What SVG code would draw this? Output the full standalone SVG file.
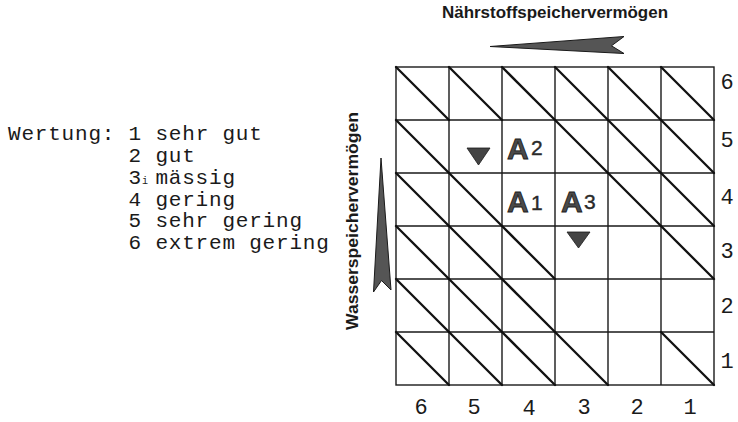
<svg xmlns="http://www.w3.org/2000/svg" width="738" height="422" viewBox="0 0 738 422">
<style>
  .grid { fill: none; stroke: #1a1a1a; stroke-width: 1.4; }
  .diag { stroke: #111; stroke-width: 2.3; stroke-linecap: round; }
  .mono { font-family: "Liberation Mono", "DejaVu Sans Mono", monospace; fill: #1a1a1a; }
  .legend { font-size: 21px; letter-spacing: 0.8px; }
  .axisnum { font-size: 22px; text-anchor: middle; }
  .title { font-family: "Liberation Sans", Arial, sans-serif; font-weight: bold; font-size: 16px; fill: #1a1a1a; }
  .bigA { font-family: "Liberation Sans", Arial, sans-serif; font-weight: bold; font-size: 30px; fill: #4a4a4a; stroke: #1a1a1a; stroke-width: 0.8; }
  .sub { font-family: "Liberation Sans", Arial, sans-serif; font-size: 21px; fill: #2a2a2a; stroke: #2a2a2a; stroke-width: 0.4; }
  .arrow { fill: #555; stroke: #1a1a1a; stroke-width: 1; stroke-linejoin: miter; }
  .mark { fill: #444; stroke: #1a1a1a; stroke-width: 0.8; }
</style>

<g id="legend" class="mono legend">
  <text x="8" y="140">Wertung: 1 sehr gut</text>
  <text x="128.6" y="162">2 gut</text>
  <text x="128.6" y="184">3<tspan font-size="10px" letter-spacing="0">i</tspan><tspan x="155.4">mässig</tspan></text>
  <text x="128.6" y="206">4 gering</text>
  <text x="128.6" y="227">5 sehr gering</text>
  <text x="128.6" y="249">6 extrem gering</text>
</g>

<g id="title-top">
  <text class="title" x="555" y="18" text-anchor="middle" textLength="226" lengthAdjust="spacingAndGlyphs">Nährstoffspeichervermögen</text>
</g>
<g id="title-left">
  <text class="title" transform="translate(358,221) rotate(-90)" text-anchor="middle" textLength="218" lengthAdjust="spacingAndGlyphs">Wasserspeichervermögen</text>
</g>

<g id="connectors">
  <path class="arrow" d="M490,46.5 L624,36.5 L611.5,45.8 L624,53.5 Z"/>
  <path class="arrow" d="M381,158 L391,290 L381.5,280.5 L373.5,292 Z"/>
</g>

<g id="grid">
  <rect class="grid" x="396" y="67" width="318" height="318"/>
  <path class="grid" d="M449,67V385 M502,67V385 M555,67V385 M608,67V385 M661,67V385 M396,120H714 M396,173H714 M396,226H714 M396,279H714 M396,332H714"/>
</g>

<g id="diagonals" class="diag">
  <line x1="396" y1="67" x2="449" y2="120"/>
  <line x1="449" y1="67" x2="502" y2="120"/>
  <line x1="502" y1="67" x2="555" y2="120"/>
  <line x1="555" y1="67" x2="608" y2="120"/>
  <line x1="608" y1="67" x2="661" y2="120"/>
  <line x1="661" y1="67" x2="714" y2="120"/>
  <line x1="396" y1="120" x2="449" y2="173"/>
  <line x1="555" y1="120" x2="608" y2="173"/>
  <line x1="608" y1="120" x2="661" y2="173"/>
  <line x1="661" y1="120" x2="714" y2="173"/>
  <line x1="396" y1="173" x2="449" y2="226"/>
  <line x1="449" y1="173" x2="502" y2="226"/>
  <line x1="608" y1="173" x2="661" y2="226"/>
  <line x1="661" y1="173" x2="714" y2="226"/>
  <line x1="396" y1="226" x2="449" y2="279"/>
  <line x1="449" y1="226" x2="502" y2="279"/>
  <line x1="502" y1="226" x2="555" y2="279"/>
  <line x1="661" y1="226" x2="714" y2="279"/>
  <line x1="396" y1="279" x2="449" y2="332"/>
  <line x1="449" y1="279" x2="502" y2="332"/>
  <line x1="502" y1="279" x2="555" y2="332"/>
  <line x1="396" y1="332" x2="449" y2="385"/>
  <line x1="449" y1="332" x2="502" y2="385"/>
  <line x1="502" y1="332" x2="555" y2="385"/>
  <line x1="555" y1="332" x2="608" y2="385"/>
  <line x1="661" y1="332" x2="714" y2="385"/>
</g>

<g id="markers">
  <polygon class="mark" points="467,148 490,148 478.5,165"/>
  <polygon class="mark" points="567,232 590,232 578.5,248"/>
</g>

<g id="node-A2">
  <text class="bigA" x="507" y="159">A</text>
  <text class="sub" x="531" y="155">2</text>
</g>
<g id="node-A1">
  <text class="bigA" x="507" y="212">A</text>
  <text class="sub" x="531" y="210">1</text>
</g>
<g id="node-A3">
  <text class="bigA" x="561" y="212">A</text>
  <text class="sub" x="584" y="209">3</text>
</g>

<g id="axis-right" class="mono axisnum">
  <text x="727" y="89">6</text>
  <text x="727" y="147">5</text>
  <text x="727" y="204">4</text>
  <text x="727" y="258">3</text>
  <text x="727" y="313">2</text>
  <text x="727" y="368">1</text>
</g>
<g id="axis-bottom" class="mono axisnum">
  <text x="421" y="414">6</text>
  <text x="474" y="414">5</text>
  <text x="529" y="415">4</text>
  <text x="584" y="414">3</text>
  <text x="637" y="414">2</text>
  <text x="690" y="414">1</text>
</g>
</svg>
